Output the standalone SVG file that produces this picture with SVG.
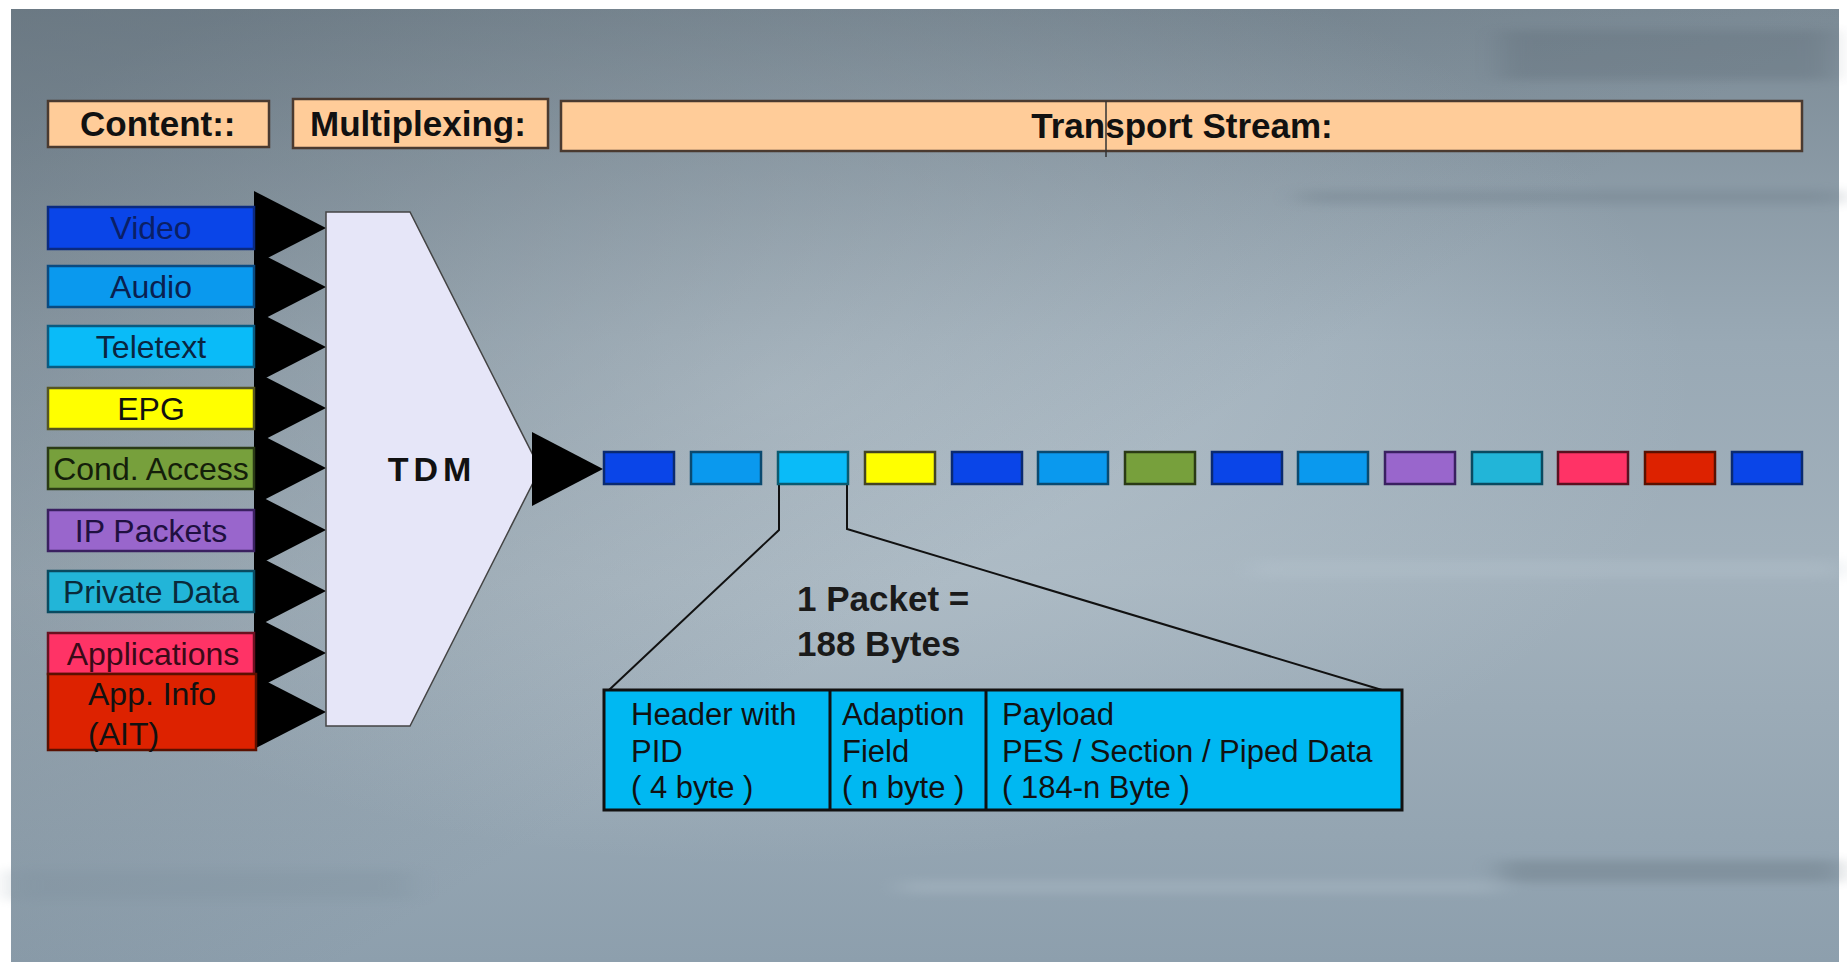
<svg xmlns="http://www.w3.org/2000/svg" width="1847" height="962" viewBox="0 0 1847 962">
<defs>
<linearGradient id="bgv" x1="0" y1="0" x2="0" y2="1">
<stop offset="0" stop-color="#7b8a95"/>
<stop offset="0.35" stop-color="#99a9b5"/>
<stop offset="0.6" stop-color="#a2b1bc"/>
<stop offset="1" stop-color="#8d9fad"/>
</linearGradient>
<radialGradient id="hl" cx="0.42" cy="0.4" r="0.5">
<stop offset="0" stop-color="#c2ced6" stop-opacity="0.6"/>
<stop offset="1" stop-color="#c2ced6" stop-opacity="0"/>
</radialGradient>
<linearGradient id="tl" x1="0" y1="0" x2="0.6" y2="0.5">
<stop offset="0" stop-color="#5e6b75" stop-opacity="0.55"/>
<stop offset="1" stop-color="#5e6b75" stop-opacity="0"/>
</linearGradient>
<filter id="blur" x="-10%" y="-100%" width="120%" height="300%"><feGaussianBlur stdDeviation="14 4"/></filter>
<style>
.hdr{fill:#ffcc99;stroke:#4a3a30;stroke-width:2.5}
.hdrt{font-family:"Liberation Sans",Arial,sans-serif;font-weight:bold;font-size:35px;fill:#111}
.lbl{font-family:"Liberation Sans",Arial,sans-serif;font-size:32px;text-anchor:middle}
.lbll{font-family:"Liberation Sans",Arial,sans-serif;font-size:32px;text-anchor:start}
.box{stroke-width:2.5}
.pk{stroke-width:2.5}
.tri{fill:#000}
.bt{font-family:"Liberation Sans",Arial,sans-serif;font-size:31px;fill:#111}
.big{font-family:"Liberation Sans",Arial,sans-serif;font-weight:bold;font-size:35px;fill:#1a1a1a}
.ln{stroke:#111;stroke-width:2;fill:none}
</style>
</defs>
<rect x="0" y="0" width="1847" height="962" fill="#ffffff"/>
<g id="background">
<rect x="11" y="9" width="1828" height="953" fill="url(#bgv)"/>
<rect x="11" y="9" width="1828" height="953" fill="url(#hl)"/>
<rect x="11" y="9" width="1828" height="953" fill="url(#tl)"/>
<g filter="url(#blur)" opacity="0.3">
<rect x="1300" y="190" width="540" height="14" fill="#6a7985"/>
<rect x="1250" y="560" width="590" height="18" fill="#b8c6d0"/>
<rect x="1500" y="860" width="340" height="22" fill="#5c6a75"/>
<rect x="900" y="880" width="600" height="14" fill="#b5c3cd"/>
<rect x="1500" y="30" width="330" height="50" fill="#5a6873"/>
<rect x="11" y="870" width="400" height="30" fill="#7f919e"/>
</g>
</g>

<g id="header-content"><rect class="hdr" x="48" y="101" width="221" height="46"/><text class="hdrt" x="80" y="136">Content::</text></g>
<g id="header-multiplexing"><rect class="hdr" x="293" y="99" width="255" height="49"/><text class="hdrt" x="310" y="136">Multiplexing:</text></g>
<g id="header-transport"><rect class="hdr" x="561" y="101" width="1241" height="50"/><text class="hdrt" x="1182" y="138" text-anchor="middle">Transport Stream:</text><line x1="1106" y1="101" x2="1106" y2="157" stroke="#333" stroke-width="1.5"/></g>

<g id="connectors">
<polygon class="tri" points="254,191 326,228 254,265"/>
<polygon class="tri" points="254,250 326,287 254,324"/>
<polygon class="tri" points="254,310 326,347 254,384"/>
<polygon class="tri" points="254,371 326,408 254,445"/>
<polygon class="tri" points="254,431 326,468 254,505"/>
<polygon class="tri" points="254,493 326,530 254,567"/>
<polygon class="tri" points="254,554 326,591 254,628"/>
<polygon class="tri" points="254,616 326,653 254,690"/>
<polygon class="tri" points="254,675 326,712 254,749"/>
<polyline class="ln" points="779,484 779,530 609,690"/>
<polyline class="ln" points="847,484 847,529 1382,690"/>
</g>

<g id="src-video"><rect class="box" x="48" y="207" width="206" height="42" fill="#0a45e8" stroke="#0a2a80"/><text class="lbl" x="151" y="239" fill="#0a1f66">Video</text></g>
<g id="src-audio"><rect class="box" x="48" y="266" width="206" height="41" fill="#0a99ee" stroke="#0a4a80"/><text class="lbl" x="151" y="298" fill="#0a2050">Audio</text></g>
<g id="src-teletext"><rect class="box" x="48" y="326" width="206" height="41" fill="#0abbf8" stroke="#0a5a80"/><text class="lbl" x="151" y="358" fill="#0a2540">Teletext</text></g>
<g id="src-epg"><rect class="box" x="48" y="388" width="206" height="41" fill="#ffff00" stroke="#555522"/><text class="lbl" x="151" y="420" fill="#111">EPG</text></g>
<g id="src-ca"><rect class="box" x="48" y="448" width="206" height="41" fill="#77a03c" stroke="#2a3a15"/><text class="lbl" x="151" y="480" fill="#141e0a">Cond. Access</text></g>
<g id="src-ip"><rect class="box" x="48" y="510" width="206" height="41" fill="#9966cc" stroke="#3a2060"/><text class="lbl" x="151" y="542" fill="#201040">IP Packets</text></g>
<g id="src-private"><rect class="box" x="48" y="571" width="206" height="41" fill="#22b5d8" stroke="#0a4a60"/><text class="lbl" x="151" y="603" fill="#0a2a3a">Private Data</text></g>
<g id="src-apps"><rect class="box" x="48" y="633" width="206" height="41" fill="#ff3366" stroke="#6a1020"/><text class="lbl" x="153" y="665" fill="#3a0a18">Applications</text></g>
<g id="src-ait"><rect class="box" x="48" y="674" width="208" height="76" fill="#dd2200" stroke="#5a1000"/><text class="lbll" x="88" y="705" fill="#111">App. Info</text><text class="lbll" x="88" y="745" fill="#111">(AIT)</text></g>

<g id="tdm">
<polygon points="326,212 410,212 540,469 410,726 326,726" fill="#e6e6f8" stroke="#444" stroke-width="1.5"/>
<text x="432" y="481" font-family="Liberation Sans,Arial,sans-serif" font-weight="bold" font-size="34" letter-spacing="5" text-anchor="middle" fill="#111">TDM</text>
<polygon class="tri" points="532,432 603,469 532,506"/>
</g>

<g id="stream">
<rect class="pk" x="604" y="452" width="70" height="32" fill="#0a45e8" stroke="#0a2a70"/>
<rect class="pk" x="691" y="452" width="70" height="32" fill="#0a99ee" stroke="#0a4a70"/>
<rect class="pk" x="778" y="452" width="70" height="32" fill="#0abbf8" stroke="#0a5a70"/>
<rect class="pk" x="865" y="452" width="70" height="32" fill="#ffff00" stroke="#444422"/>
<rect class="pk" x="952" y="452" width="70" height="32" fill="#0a45e8" stroke="#0a2a70"/>
<rect class="pk" x="1038" y="452" width="70" height="32" fill="#0a99ee" stroke="#0a4a70"/>
<rect class="pk" x="1125" y="452" width="70" height="32" fill="#77a03c" stroke="#2a3a15"/>
<rect class="pk" x="1212" y="452" width="70" height="32" fill="#0a45e8" stroke="#0a2a70"/>
<rect class="pk" x="1298" y="452" width="70" height="32" fill="#0a99ee" stroke="#0a4a70"/>
<rect class="pk" x="1385" y="452" width="70" height="32" fill="#9966cc" stroke="#3a2060"/>
<rect class="pk" x="1472" y="452" width="70" height="32" fill="#22b5d8" stroke="#0a4a60"/>
<rect class="pk" x="1558" y="452" width="70" height="32" fill="#ff3366" stroke="#5a1020"/>
<rect class="pk" x="1645" y="452" width="70" height="32" fill="#dd2200" stroke="#5a1000"/>
<rect class="pk" x="1732" y="452" width="70" height="32" fill="#0a45e8" stroke="#0a2a70"/>
</g>

<g id="packet-label"><text class="big" x="797" y="611">1 Packet =</text><text class="big" x="797" y="656">188 Bytes</text></g>

<g id="packet">
<rect x="604" y="690" width="798" height="120" fill="#00b8f2" stroke="#111" stroke-width="3"/>
<line x1="830" y1="690" x2="830" y2="810" stroke="#111" stroke-width="3"/>
<line x1="986" y1="690" x2="986" y2="810" stroke="#111" stroke-width="3"/>
<text class="bt" x="631" y="725">Header with</text>
<text class="bt" x="631" y="762">PID</text>
<text class="bt" x="631" y="798">( 4 byte )</text>
<text class="bt" x="842" y="725">Adaption</text>
<text class="bt" x="842" y="762">Field</text>
<text class="bt" x="842" y="798">( n byte )</text>
<text class="bt" x="1002" y="725">Payload</text>
<text class="bt" x="1002" y="762">PES / Section / Piped Data</text>
<text class="bt" x="1002" y="798">( 184-n Byte )</text>
</g>
</svg>
